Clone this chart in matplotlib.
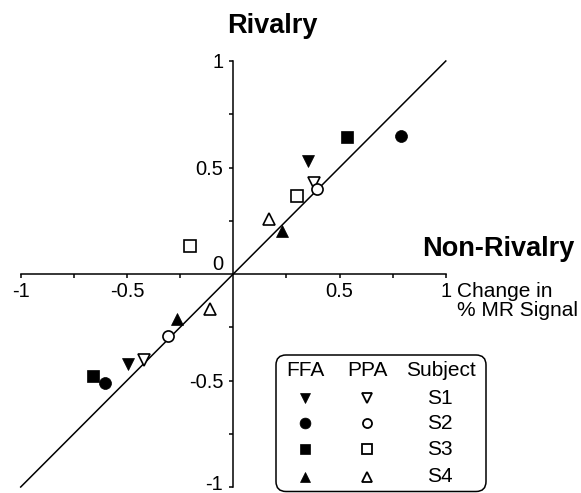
import matplotlib
matplotlib.use("Agg")
import matplotlib.pyplot as plt
from matplotlib.patches import FancyBboxPatch

plt.rcParams['font.family'] = ['Liberation Sans', 'DejaVu Sans']

# Data: (non-rivalry change, rivalry change) in % MR signal
ffa_s1_x = [0.353, -0.497]; ffa_s1_y = [0.529, -0.421]
ffa_s2_x = [0.788, -0.604]; ffa_s2_y = [0.649, -0.512]
ffa_s3_x = [0.534, -0.659]; ffa_s3_y = [0.641, -0.477]
ffa_s4_x = [0.228, -0.266]; ffa_s4_y = [0.203, -0.211]
ppa_s1_x = [0.381, -0.419]; ppa_s1_y = [0.427, -0.406]
ppa_s2_x = [0.395, -0.306]; ppa_s2_y = [0.400, -0.290]
ppa_s3_x = [0.301, -0.204]; ppa_s3_y = [0.364, 0.133]
ppa_s4_x = [0.168, -0.110]; ppa_s4_y = [0.260, -0.164]

subjects = ['S1', 'S2', 'S3', 'S4']
major_ticks = [-1, -0.5, 0.5, 1]
x_labels = ['-1', '-0.5', '0.5', '1']
y_labels = ['', '-0.5', '0.5', '1']
minor_ticks = [-0.75, -0.25, 0.25, 0.75]
identity_x = [-1, 1]
identity_y = [-1, 1]

W, H = 581, 493
fig = plt.figure(figsize=(W / 100, H / 100), dpi=100)
ax = fig.add_axes([20.7 / W, (H - 487) / H, 425.1 / W, 426 / H])
ax.set_xlim(-1, 1)
ax.set_ylim(-1, 1)

for s in ['top', 'right']:
    ax.spines[s].set_visible(False)
for s in ['left', 'bottom']:
    ax.spines[s].set_position(('data', 0))
    ax.spines[s].set_linewidth(1.1)

ax.set_xticks(major_ticks)
ax.set_xticklabels(x_labels)
ax.set_yticks(major_ticks)
ax.set_yticklabels(y_labels)
ax.set_xticks(minor_ticks, minor=True)
ax.set_yticks(minor_ticks, minor=True)
ax.tick_params(which='both', direction='out', length=3.2, width=1.1, labelsize=14.5)
ax.tick_params(axis='x', which='major', pad=2.5)
ax.tick_params(axis='y', which='major', pad=4)

ax.plot(identity_x, identity_y, color='black', lw=1.1, clip_on=False, zorder=2)

ms_f = 8.6
ms_o = 8.0
ew = 1.2
filled = [(ffa_s1_x, ffa_s1_y, 'v'), (ffa_s2_x, ffa_s2_y, 'o'),
          (ffa_s3_x, ffa_s3_y, 's'), (ffa_s4_x, ffa_s4_y, '^')]
opened = [(ppa_s1_x, ppa_s1_y, 'v'), (ppa_s2_x, ppa_s2_y, 'o'),
          (ppa_s3_x, ppa_s3_y, 's'), (ppa_s4_x, ppa_s4_y, '^')]
for xs, ys, m in filled:
    ax.plot(xs, ys, ls='none', marker=m, ms=ms_f, mfc='black', mec='black',
            mew=0.5, clip_on=False, zorder=3)
for xs, ys, m in opened:
    ax.plot(xs, ys, ls='none', marker=m, ms=ms_o, mfc='white', mec='black',
            mew=ew, clip_on=False, zorder=4)

# overlay axes in pixel coords for annotations and legend
lax = fig.add_axes([0, 0, 1, 1], zorder=5)
lax.set_xlim(0, W)
lax.set_ylim(H, 0)
lax.axis('off')
lax.patch.set_alpha(0)

lax.text(272, 33, 'Rivalry', fontsize=19.5, fontweight='bold', ha='center', va='baseline')
lax.text(422.5, 256.5, 'Non-Rivalry', fontsize=19.5, fontweight='bold', ha='left', va='baseline')
lax.text(457, 297, 'Change in', fontsize=15, ha='left', va='baseline')
lax.text(457, 316, '% MR Signal', fontsize=15, ha='left', va='baseline')
lax.text(223, 264, '0', fontsize=14.5, ha='right', va='center')
lax.text(223, 490.5, '-1', fontsize=14.5, ha='right', va='baseline')

box = FancyBboxPatch((276, 355), 210, 136.5, boxstyle='round,pad=0,rounding_size=10',
                     fc='white', ec='black', lw=1.1, clip_on=False)
lax.add_patch(box)
col_ffa, col_ppa, col_sub = 305, 367, 441
lax.text(col_ffa, 371, 'FFA', fontsize=15, ha='center', va='center')
lax.text(col_ppa, 371, 'PPA', fontsize=15, ha='center', va='center')
lax.text(col_sub, 371, 'Subject', fontsize=15, ha='center', va='center')
row_y = [398.3, 423.3, 449.3, 476.7]
leg_markers = ['v', 'o', 's', '^']
for yy, m, s in zip(row_y, leg_markers, subjects):
    lax.plot([col_ffa], [yy], ls='none', marker=m, ms=7.8, mfc='black', mec='black', mew=0.5)
    lax.plot([col_ppa], [yy], ls='none', marker=m, ms=6.5, mfc='white', mec='black', mew=1.3)
    lax.text(col_sub - 1, yy, s, fontsize=15, ha='center', va='center')

fig.savefig('out.png', dpi=100)
